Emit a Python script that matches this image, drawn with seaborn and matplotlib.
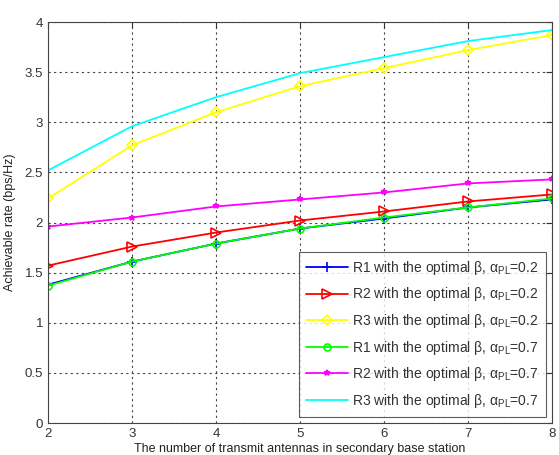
import matplotlib
matplotlib.use("Agg")
import matplotlib.pyplot as plt
import seaborn as sns
import pandas as pd

antennas = [2, 3, 4, 5, 6, 7, 8]
r1_02 = [1.38, 1.61, 1.79, 1.94, 2.04, 2.15, 2.23]
r2_02 = [1.57, 1.76, 1.90, 2.02, 2.11, 2.21, 2.28]
r3_02 = [2.24, 2.77, 3.10, 3.36, 3.54, 3.72, 3.87]
r1_07 = [1.37, 1.61, 1.79, 1.94, 2.05, 2.15, 2.24]
r2_07 = [1.96, 2.05, 2.16, 2.23, 2.30, 2.39, 2.43]
r3_07 = [2.52, 2.96, 3.25, 3.49, 3.65, 3.81, 3.92]

labels = [
    r"R1 with the optimal $\beta$, $\alpha_{PL}$=0.2",
    r"R2 with the optimal $\beta$, $\alpha_{PL}$=0.2",
    r"R3 with the optimal $\beta$, $\alpha_{PL}$=0.2",
    r"R1 with the optimal $\beta$, $\alpha_{PL}$=0.7",
    r"R2 with the optimal $\beta$, $\alpha_{PL}$=0.7",
    r"R3 with the optimal $\beta$, $\alpha_{PL}$=0.7",
]
series = [r1_02, r2_02, r3_02, r1_07, r2_07, r3_07]
colors = ["#0000ff", "#ff0000", "#ffff00", "#00ff00", "#ff00ff", "#00ffff"]
markers = ["+", ">", "D", "o", "*", None]
msizes = [7, 7, 5, 5, 4, 0]

sns.set_style("white")
plt.rcParams["font.family"] = ["Liberation Sans", "DejaVu Sans"]
plt.rcParams["mathtext.fontset"] = "custom"
plt.rcParams["mathtext.rm"] = "Liberation Sans"
plt.rcParams["mathtext.it"] = "Liberation Sans"

fig = plt.figure(figsize=(5.59, 4.55), dpi=100)
ax = fig.add_axes([0.0859, 0.0703, 0.9016, 0.8813])

for vals, lab, col, mk, ms in zip(series, labels, colors, markers, msizes):
    df = pd.DataFrame({"x": antennas, "y": vals})
    kw = dict(marker=mk, markersize=ms, markeredgecolor=col, markeredgewidth=1.2) if mk else {}
    if mk in (">", "D", "o"):
        kw["markerfacecolor"] = "none"
    if mk == "*":
        kw["markerfacecolor"] = col
    sns.lineplot(data=df, x="x", y="y", ax=ax, color=col, linewidth=1.3,
                 label=lab, **kw)

ax.set_xlim(2, 8)
ax.set_ylim(0, 4)
ax.set_xticks(antennas)
ax.set_yticks([0, 0.5, 1, 1.5, 2, 2.5, 3, 3.5, 4])
ax.set_yticklabels(["0", "0.5", "1", "1.5", "2", "2.5", "3", "3.5", "4"])
ax.grid(True, linestyle=(0, (2, 3)), color="#444444", linewidth=0.8)
ax.tick_params(direction="in", length=4, labelsize=9.5, colors="#333333",
               top=True, right=True)
for s in ax.spines.values():
    s.set_color("#444444")
    s.set_linewidth(0.8)
ax.set_xlabel("The number of transmit antennas in secondary base station",
              fontsize=9, color="#222222", labelpad=2)
ax.set_ylabel("Achievable rate (bps/Hz)", fontsize=9, color="#222222", labelpad=6)

leg = ax.legend(loc="lower right", fontsize=10, frameon=True, fancybox=False,
                edgecolor="#333333", handlelength=3.0, labelspacing=0.62,
                borderaxespad=0.45, handletextpad=0.3, borderpad=0.5)
leg.get_frame().set_linewidth(0.8)
for t in leg.get_texts():
    t.set_color("#333333")

fig.savefig("out.png", dpi=100)
